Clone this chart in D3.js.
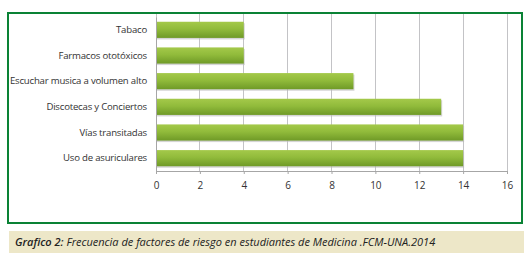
<!DOCTYPE html>
<html>
<head>
<meta charset="utf-8">
<script src="https://cdn.jsdelivr.net/npm/d3@7"></script>
<style>
    body { margin: 0; background: #fff; }
    svg { display: block; }
</style>
</head>
<body>
<div id="chart"></div>
<script>
// data
const categories = ["Tabaco", "Farmacos ototóxicos", "Escuchar musica a volumen alto",
    "Discotecas y Conciertos", "Vías transitadas", "Uso de asuriculares"];
const values = [4, 4, 9, 13, 14, 14];
const xTicks = [0, 2, 4, 6, 8, 10, 12, 14, 16];
const captionLabel = "Grafico 2:";
const captionText = " Frecuencia de factores de riesgo en estudiantes de Medicina .FCM-UNA.2014";

const W = 531, H = 257;
const plot = {left: 156, right: 507, top: 17, bottom: 171};

const svg = d3.select("#chart").append("svg")
    .attr("width", W)
    .attr("height", H);

const defs = svg.append("defs");
let grad = defs.append("linearGradient")
    .attr("id", "barGrad")
    .attr("x1", 0).attr("y1", 0).attr("x2", 0).attr("y2", 1);
grad.append("stop").attr("offset", "0%").attr("stop-color", "#a4c94a");
grad.append("stop").attr("offset", "45%").attr("stop-color", "#91bb3b");
grad.append("stop").attr("offset", "100%").attr("stop-color", "#6f9a27");

// outer frame
svg.append("rect")
    .attr("x", 8).attr("y", 13)
    .attr("width", 514).attr("height", 210)
    .attr("fill", "#fff")
    .attr("stroke", "#0a8235")
    .attr("stroke-width", 2);

let x = d3.scaleLinear()
    .domain([0, 16])
    .range([plot.left, plot.right]);

let y = d3.scaleBand()
    .domain(categories)
    .range([plot.top, plot.bottom])
    .paddingInner(0.37)
    .paddingOuter(0.185);

// gridlines
svg.append("g")
    .selectAll("line")
    .data(xTicks)
    .enter().append("line")
    .attr("x1", d => x(d)).attr("x2", d => x(d))
    .attr("y1", 14).attr("y2", plot.bottom)
    .attr("stroke", "#c3c3c6")
    .attr("stroke-width", 1)
    .attr("shape-rendering", "crispEdges");

// bars with a soft shadow
let bars = svg.append("g");
bars.selectAll(".shadow")
    .data(values)
    .enter().append("rect")
    .attr("class", "shadow")
    .attr("x", x(0) + 1)
    .attr("y", (d, i) => y(categories[i]) + 1.5)
    .attr("width", d => x(d) - x(0))
    .attr("height", y.bandwidth())
    .attr("fill", "#b9b9b9")
    .attr("opacity", 0.6);

bars.selectAll(".bar")
    .data(values)
    .enter().append("rect")
    .attr("class", "bar")
    .attr("x", x(0))
    .attr("y", (d, i) => y(categories[i]))
    .attr("width", d => x(d) - x(0))
    .attr("height", y.bandwidth())
    .attr("fill", "url(#barGrad)");

// axes
let xAxis = svg.append("g")
    .attr("transform", `translate(0, ${plot.bottom})`)
    .call(d3.axisBottom(x).tickValues(xTicks).tickSize(3).tickPadding(8));
xAxis.select(".domain").attr("stroke", "#a6a6a6");
xAxis.selectAll(".tick line").attr("stroke", "#a6a6a6");
xAxis.selectAll("text")
    .attr("fill", "#333")
    .attr("font-family", "Open Sans")
    .attr("font-size", "10px");

let yAxis = svg.append("g")
    .attr("transform", `translate(${plot.left}, 0)`)
    .call(d3.axisLeft(y).tickSize(0).tickPadding(9));
yAxis.select(".domain").attr("stroke", "#a6a6a6");
yAxis.selectAll("text")
    .attr("fill", "#333")
    .attr("font-family", "Open Sans")
    .attr("font-size", "9.6px")
    .attr("letter-spacing", "-0.2px");

// caption
svg.append("rect")
    .attr("x", 9).attr("y", 231)
    .attr("width", 515).attr("height", 22)
    .attr("fill", "#ede7c8");

let cap = svg.append("text")
    .attr("x", 15).attr("y", 246)
    .attr("font-family", "Open Sans")
    .attr("font-style", "italic")
    .attr("font-size", "11px")
    .attr("fill", "#222");
cap.append("tspan").attr("font-weight", "600").text(captionLabel);
cap.append("tspan").text(captionText);
</script>
</body>
</html>
